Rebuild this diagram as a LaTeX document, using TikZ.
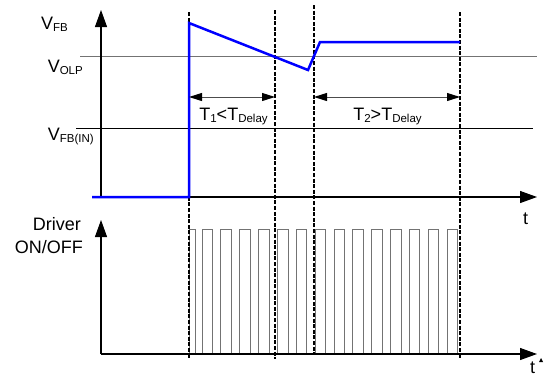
\documentclass[tikz,border=0pt]{standalone}
\usepackage{fontspec}
\setmainfont{Liberation Sans}
\usetikzlibrary{arrows.meta}
\newcommand\lowtext[1]{\raisebox{-2bp}{\fontsize{11.5bp}{12bp}\selectfont #1}}

\begin{document}
\begin{tikzpicture}[x=1bp, y=-1bp,
	every node/.style={font=\fontsize{18bp}{23bp}\selectfont, inner sep=0pt},
	axis/.style={line width=1.1bp, -{Triangle[length=17bp,width=12bp]}},
	dashline/.style={line width=1.1bp, dash pattern=on 4bp off 1.6bp},
	span/.style={line width=1bp, draw=black!70, {Triangle[length=13bp,width=8bp,color=black]}-{Triangle[length=13bp,width=8bp,color=black]}},
	pulse/.style={line width=0.8bp, draw=black!55},
	signal/.style={line width=2.5bp, draw=blue}]
		%%%%% START %%%%%
		
		\useasboundingbox (0,0) rectangle (546,376);
		
		% levels
		\draw[line width=1bp, draw=black!55] (80,56) -- (537,56);
		\draw[line width=0.8bp] (76,128) -- (533,128);
		
		% driver pulses
		\draw[pulse] (189,354) -- (189,229) -- (195,229) -- (195,354);
		\foreach \k in {0,...,13}
			\draw[pulse] ({202+18.85*\k},354) -- ++(0,-125) -- ++(10.5,0) -- ++(0,125);
		
		% axes
		\draw[axis] (101,197) -- (101,10);
		\draw[axis] (101,197) -- (537,197);
		\draw[axis] (101,354) -- (101,220);
		\draw[axis] (101,354) -- (537,354);
		
		% time marks
		\foreach \x/\top/\bot in {189/12/359, 275/10/359, 314/5/355, 460/12/359}
			\draw[dashline] (\x,\top) -- (\x,\bot);
		
		% feedback voltage
		\draw[signal] (92,197) -- (189,197) -- (189,23) -- (308,70) -- (320,42) -- (460,42);
		
		% delays
		\coordinate (tonea) at (189,97);
		\coordinate (toneb) at (275,97);
		\coordinate (ttwoa) at (314,97);
		\coordinate (ttwob) at (460,97);
		\draw[span] (tonea) -- (toneb);
		\draw[span] (ttwoa) -- (ttwob);
		\node[anchor=base] (lblone) at (233.5,120) {T\lowtext{1}<T\lowtext{Delay}};
		\node[anchor=base] (lbltwo) at (387.5,120.5) {T\lowtext{2}>T\lowtext{Delay}};
		
		% labels
		\node[anchor=base east] (vfb) at (68,29) {V\lowtext{FB}};
		\node[anchor=base east] (volp) at (83,72.5) {V\lowtext{OLP}};
		\node[anchor=base east] (vfbin) at (94,140) {V\lowtext{FB(IN)}};
		\node[anchor=base east] (drv) at (81,230) {Driver};
		\node[anchor=base east] (onoff) at (83,253) {ON/OFF};
		\node[anchor=base] (tup) at (525.5,224) {t};
		\node[anchor=base] (tlow) at (532.5,373.5) {t};
		\fill (539,362) -- (543,362) -- (541,358) -- cycle;
		
		%%%%% END %%%%%
\end{tikzpicture}
\end{document}
